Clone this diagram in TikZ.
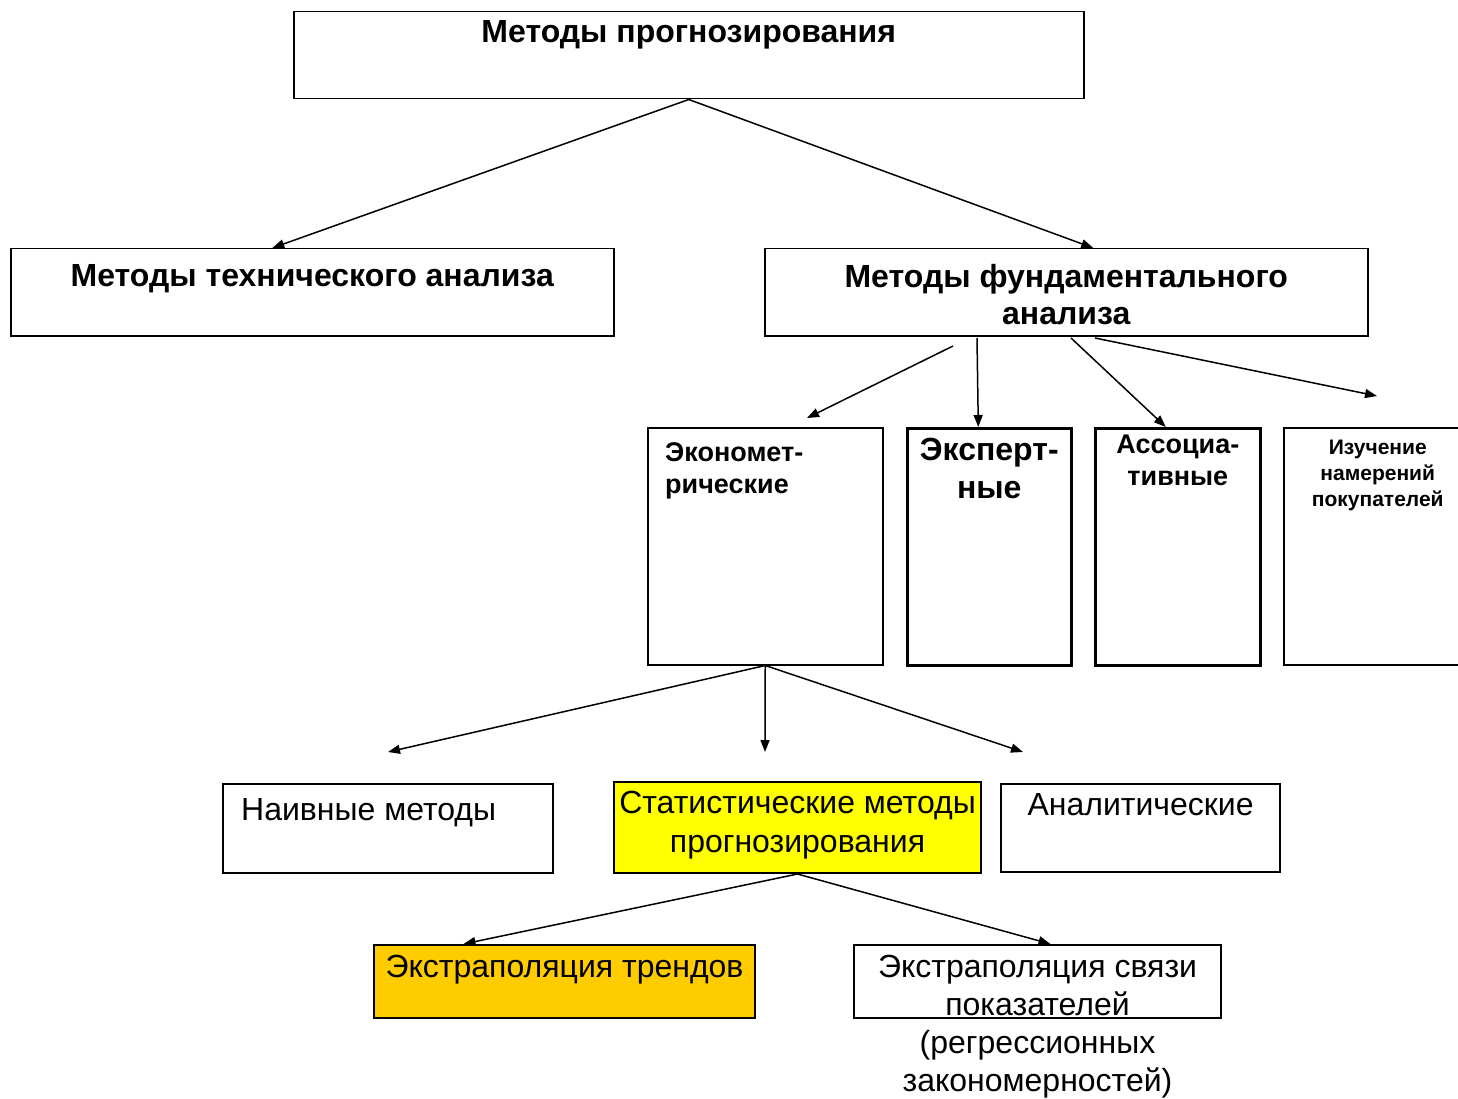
\documentclass[tikz,border=0pt]{standalone}
\usepackage{fontspec}
\setmainfont{Liberation Sans}
\usetikzlibrary{arrows.meta}
\definecolor{statyellow}{HTML}{FFFF00}
\definecolor{trendgold}{HTML}{FFCC00}
\tikzset{
  box/.style={
    rectangle,
    draw=black,
    line width=1.5pt,
    inner sep=0pt,
    anchor=north west
  },
  thickbox/.style={box, line width=2.6pt},
  hdr/.style={font=\bfseries\fontsize{32}{37}\selectfont, align=center, inner sep=0pt},
  reg/.style={font=\fontsize{32}{39}\selectfont, align=center, inner sep=0pt},
  arrow/.style={-{Triangle[length=12pt, width=9pt]}, line width=1.5pt}
}

\begin{document}
\begin{tikzpicture}[x=1pt, y=-1pt]
  \fill[white] (0,0) rectangle (1458,1099);
  \useasboundingbox (0,0) rectangle (1458,1099);

  % level 1 and 2
  \node[box, minimum width=790pt, minimum height=87pt,
    label={[hdr, anchor=north, yshift=-9pt]north:Методы прогнозирования}] (top) at (293,11) {};
  \node[box, minimum width=603pt, minimum height=87pt,
    label={[hdr, anchor=north, yshift=-16pt]north:Методы технического анализа}] (tech) at (10,248) {};
  \node[box, minimum width=603pt, minimum height=87pt,
    label={[hdr, anchor=north, yshift=-16pt]north:Методы фундаментального\\анализа}] (fund) at (764,248) {};

  % level 3
  \node[box, minimum width=235pt, minimum height=237pt,
    label={[hdr, font=\bfseries\fontsize{27}{32}\selectfont, align=left, anchor=north west, xshift=18pt, yshift=-15pt]north west:Экономет-\\рические}] (econ) at (647,427) {};
  \node[thickbox, minimum width=164pt, minimum height=237pt,
    label={[hdr, font=\bfseries\fontsize{32}{38}\selectfont, anchor=north, yshift=-11pt]north:Эксперт-\\ные}] (expert) at (906,427) {};
  \node[thickbox, minimum width=165pt, minimum height=237pt,
    label={[hdr, font=\bfseries\fontsize{27}{32}\selectfont, anchor=north, yshift=-8pt]north:Ассоциа-\\тивные}] (assoc) at (1094,427) {};
  \node[box, minimum width=188pt, minimum height=237pt,
    label={[hdr, font=\bfseries\fontsize{21}{26}\selectfont, anchor=north, yshift=-13pt]north:Изучение\\намерений\\покупателей}] (intent) at (1283,427) {};

  % level 4
  \node[box, minimum width=330pt, minimum height=89pt,
    label={[reg, anchor=north west, xshift=19pt, yshift=-15pt]north west:Наивные методы}] (naive) at (222,783) {};
  \node[box, fill=statyellow, line width=2pt, minimum width=367pt, minimum height=91pt,
    label={[reg, anchor=north, yshift=-10pt]north:Статистические методы\\прогнозирования}] (stat) at (613,781) {};
  \node[box, line width=2.2pt, minimum width=279pt, minimum height=88pt,
    label={[reg, anchor=north, yshift=-10pt]north:Аналитические}] (analyt) at (1000,783) {};

  % level 5
  \node[box, fill=trendgold, line width=2pt, minimum width=381pt, minimum height=73pt,
    label={[reg, anchor=north, yshift=-11pt]north:Экстраполяция трендов}] (trend) at (373,944) {};
  \node[box, line width=2pt, minimum width=367pt, minimum height=73pt,
    label={[reg, font=\fontsize{32}{38}\selectfont, anchor=north, yshift=-11pt]north:Экстраполяция связи\\показателей\\(регрессионных\\закономерностей)}] (link) at (853,944) {};

  % free ends of connectors
  \coordinate (fundA) at (953,346);
  \coordinate (fundB) at (977,338);
  \coordinate (fundC) at (1071,338);
  \coordinate (fundD) at (1095,338);
  \coordinate (toEcon) at (807,418);
  \coordinate (toIntent) at (1377,396);
  \coordinate (toNaive) at (388,752);
  \coordinate (toStat) at (765,752);
  \coordinate (toAnalyt) at (1023,752);

  \draw[arrow] (top.south) -- ([xshift=-40pt]tech.north);
  \draw[arrow] (top.south) -- ([xshift=27pt]fund.north);
  \draw[arrow] (fundA) -- (toEcon);
  \draw[arrow] (fundB) -- ([xshift=-11pt]expert.north);
  \draw[arrow] (fundC) -- ([xshift=-12pt]assoc.north);
  \draw[arrow] (fundD) -- (toIntent);
  \draw[arrow] (econ.south) -- (toNaive);
  \draw[arrow] (econ.south) -- (toStat);
  \draw[arrow] (econ.south) -- (toAnalyt);
  \draw[arrow] (stat.south) -- ([xshift=-101pt]trend.north);
  \draw[arrow] (stat.south) -- ([xshift=13pt]link.north);
\end{tikzpicture}
\end{document}
